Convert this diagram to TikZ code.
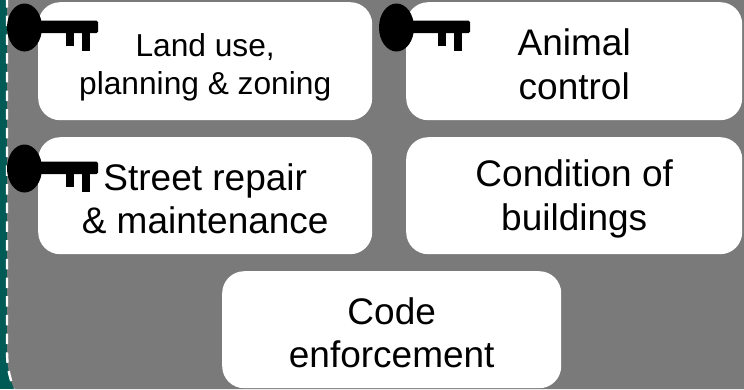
\documentclass[tikz,border=0pt]{standalone}
\usepackage{fontspec}
\setmainfont{Liberation Sans}
\definecolor{panelgray}{HTML}{7A7A7A}
\definecolor{tealstrip}{HTML}{005A55}
\newcommand{\bigpad}{\rule{0pt}{33pt}}
\newcommand{\smallpad}{\rule{0pt}{35pt}}
\tikzset{
  px/.style={x=1pt,y=-1pt},
  tile/.style={fill=white,draw=none,rounded corners=22pt,anchor=north west,align=center,inner sep=0pt,font=\fontsize{37}{43.5}\selectfont},
  smalltile/.style={tile,font=\fontsize{31.7}{37.5}\selectfont},
  pics/keyicon/.style={code={
    \fill[black] (24.5,27.5) ellipse [x radius=17.5,y radius=24];
    \fill[black,rounded corners=1.5pt] (38,20.7) -- (98,20.7) -- (98,33.2) -- (38,33.2) -- cycle;
    \fill[black] (66,30) rectangle (74,46);
    \fill[black] (82,30) rectangle (90,51);
  }}
}
\begin{document}
\begin{tikzpicture}[px]
\useasboundingbox (0,0) rectangle (744,389);
\fill[tealstrip] (0,0) rectangle (60,389);
\fill[panelgray] (7,0) -- (744,0) -- (744,389) -- (14,389) .. controls (9,376) and (7,366) .. (7,350) -- cycle;
\draw[white,line width=2.4pt,dash pattern=on 10.5pt off 8.2pt,dash phase=3pt] (7,0) -- (7,350) .. controls (7,366) and (9,376) .. (14,389);
\node[smalltile,minimum width=334pt,minimum height=118pt] (land) at (38,2) {\smallpad Land use,\\planning \& zoning};
\node[tile,minimum width=336pt,minimum height=118pt] (animal) at (406,2) {\bigpad Animal\\control};
\node[tile,minimum width=334pt,minimum height=117pt] (street) at (38,137) {\bigpad Street repair\\\& maintenance};
\node[tile,minimum width=336pt,minimum height=117pt] (cond) at (406,137) {\bigpad Condition of\\buildings};
\node[tile,minimum width=339pt,minimum height=117pt] (code) at (222,271) {\bigpad Code\\enforcement};
\pic at (0,0) {keyicon};
\pic at (372,0) {keyicon};
\pic at (0,141) {keyicon};
\end{tikzpicture}
\end{document}
